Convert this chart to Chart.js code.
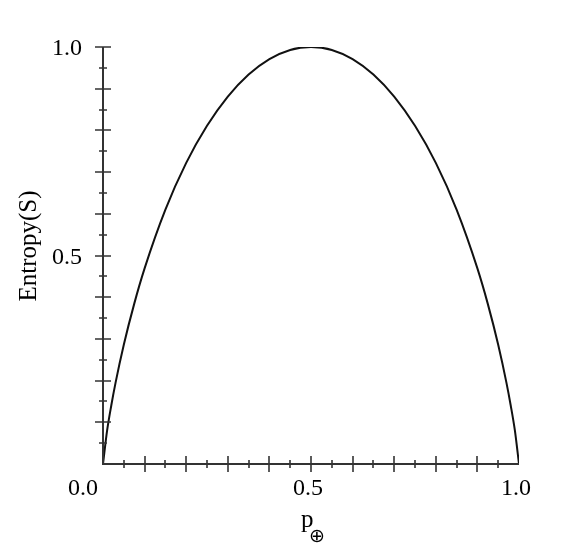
<!DOCTYPE html>
<html>
<head>
<meta charset="utf-8">
<script src="https://cdn.jsdelivr.net/npm/chart.js@4/dist/chart.umd.min.js"></script>
<style>
  html, body { margin: 0; padding: 0; background: #fff; }
  #wrap { width: 584px; height: 554px; }
  .pre { font-family: "Liberation Serif"; position: absolute; left: -1000px; }
</style>
</head>
<body>
<span class="pre">0.5 Entropy(S) p</span>
<div id="wrap"><canvas id="c" width="584" height="554"></canvas></div>
<script>
// p (probability of positive class)
const pValues = [0, 0.01, 0.02, 0.03, 0.05, 0.075, 0.1, 0.15, 0.2, 0.25, 0.3, 0.35, 0.4, 0.45, 0.5,
                 0.55, 0.6, 0.65, 0.7, 0.75, 0.8, 0.85, 0.9, 0.925, 0.95, 0.97, 0.98, 0.99, 1];
// Entropy(S) values
const entropyValues = [0, 0.081, 0.141, 0.194, 0.286, 0.384, 0.469, 0.61, 0.722, 0.811, 0.881, 0.934, 0.971, 0.993, 1.0,
                       0.993, 0.971, 0.934, 0.881, 0.811, 0.722, 0.61, 0.469, 0.384, 0.286, 0.194, 0.141, 0.081, 0];
const xMajorTicks = [0.1, 0.2, 0.3, 0.4, 0.5, 0.6, 0.7, 0.8, 0.9];
const xMinorTicks = [0.05, 0.15, 0.25, 0.35, 0.45, 0.55, 0.65, 0.75, 0.85, 0.95];
const yMajorTicks = [0.1, 0.2, 0.3, 0.4, 0.5, 0.6, 0.7, 0.8, 0.9, 1.0];
const yMinorTicks = [0.05, 0.15, 0.25, 0.35, 0.45, 0.55, 0.65, 0.75, 0.85, 0.95];
const xTickLabels = ['0.0', '0.5', '1.0'];
const xTickLabelValues = [0, 0.5, 1];
const yTickLabels = ['0.5', '1.0'];
const yTickLabelValues = [0.5, 1];
const xTitle = 'p';
const xTitleSub = '\u2295';
const yTitle = 'Entropy(S)';

const points = pValues.map((p, i) => ({ x: p, y: entropyValues[i] }));
const FONT = '"Liberation Serif", "Times New Roman", Times, serif';
const AXIS_COLOR = '#333';

const axesPlugin = {
  id: 'customAxes',
  afterDraw(chart) {
    const ctx = chart.ctx;
    const xs = chart.scales.x, ys = chart.scales.y;
    const x0 = xs.getPixelForValue(0), x1 = xs.getPixelForValue(1);
    const y0 = ys.getPixelForValue(0), y1 = ys.getPixelForValue(1);
    ctx.save();
    ctx.strokeStyle = AXIS_COLOR;
    ctx.lineWidth = 2;
    ctx.beginPath();
    ctx.moveTo(x0, y1); ctx.lineTo(x0, y0); ctx.lineTo(x1, y0);
    ctx.stroke();
    ctx.lineWidth = 1.6;
    ctx.beginPath();
    xMajorTicks.forEach(v => { const px = Math.round(xs.getPixelForValue(v)); ctx.moveTo(px, y0 - 8); ctx.lineTo(px, y0 + 8); });
    xMinorTicks.forEach(v => { const px = Math.round(xs.getPixelForValue(v)); ctx.moveTo(px, y0 - 4); ctx.lineTo(px, y0 + 4); });
    yMajorTicks.forEach(v => { const py = Math.round(ys.getPixelForValue(v)); ctx.moveTo(x0 - 8, py); ctx.lineTo(x0 + 8, py); });
    yMinorTicks.forEach(v => { const py = Math.round(ys.getPixelForValue(v)); ctx.moveTo(x0 - 4, py); ctx.lineTo(x0 + 4, py); });
    ctx.stroke();
    ctx.fillStyle = '#000';
    ctx.font = '24px ' + FONT;
    ctx.textAlign = 'center';
    ctx.textBaseline = 'alphabetic';
    xTickLabels.forEach((t, i) => {
      const v = xTickLabelValues[i];
      const dx = v === 0 ? -20 : -3;
      ctx.fillText(t, xs.getPixelForValue(v) + dx, y0 + 31);
    });
    ctx.textAlign = 'right';
    yTickLabels.forEach((t, i) => {
      ctx.fillText(t, x0 - 21, ys.getPixelForValue(yTickLabelValues[i]) + 8);
    });
    ctx.save();
    ctx.translate(29, 246);
    ctx.rotate(-Math.PI / 2);
    ctx.textAlign = 'center';
    ctx.textBaseline = 'middle';
    ctx.font = '25px ' + FONT;
    ctx.fillText(yTitle, 0, 0);
    ctx.restore();
    ctx.textAlign = 'left';
    ctx.textBaseline = 'alphabetic';
    ctx.font = '25px ' + FONT;
    ctx.fillText(xTitle, 301, 527);
    ctx.font = '19px "DejaVu Sans", sans-serif';
    ctx.fillText(xTitleSub, 309, 542);
    ctx.restore();
  }
};

function make() {
  new Chart(document.getElementById('c'), {
    type: 'line',
    data: {
      datasets: [{
        data: points,
        borderColor: '#111',
        borderWidth: 2,
        pointRadius: 0,
        fill: false,
        cubicInterpolationMode: 'monotone'
      }]
    },
    options: {
      responsive: false,
      animation: false,
      devicePixelRatio: 1,
      layout: { padding: { left: 103, right: 65, top: 47, bottom: 90 } },
      plugins: { legend: { display: false }, tooltip: { enabled: false } },
      scales: {
        x: { type: 'linear', min: 0, max: 1, display: false },
        y: { type: 'linear', min: 0, max: 1, display: false }
      }
    },
    plugins: [axesPlugin]
  });
}
if (document.fonts && document.fonts.load) {
  document.fonts.load('24px "Liberation Serif"').then(make, make);
} else { make(); }
</script>
</body>
</html>
